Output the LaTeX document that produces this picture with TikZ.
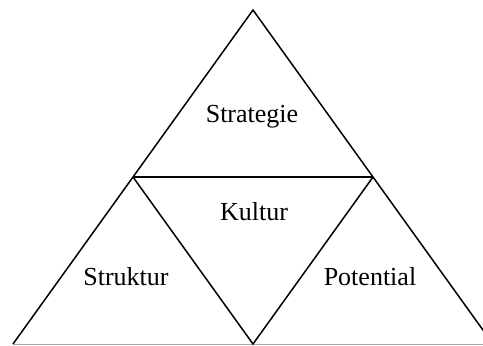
\documentclass[tikz,border=0pt]{standalone}
\usepackage{fontspec}
\setmainfont{Liberation Serif}
\tikzset{
  edge/.style={line width=1.5pt, black, line join=miter},
  baseline/.style={line width=1pt, gray!70},
  lbl/.style={font=\fontsize{26}{30}\selectfont, inner sep=0pt, anchor=base}
}
\begin{document}
\begin{tikzpicture}[x=1pt,y=-1pt]
\useasboundingbox (0,0) rectangle (483,346);
\clip (0,0) rectangle (483,346);
\coordinate (A) at (253,10);
\coordinate (L) at (13,344);
\coordinate (R) at (493,344);
\coordinate (ML) at (133,177);
\coordinate (MR) at (373,177);
\coordinate (MB) at (253,344);
\draw[baseline] (L) -- (R);
\draw[edge] (L) -- (A) -- (R);
\draw[edge] (ML) -- (MR);
\draw[edge] (ML) -- (MB) -- (MR);
\node[lbl] (strategie) at (252,122) {Strategie};
\node[lbl] (kultur) at (254,220) {Kultur};
\node[lbl] (struktur) at (126,285) {Struktur};
\node[lbl] (potential) at (370,285) {Potential};
\end{tikzpicture}
\end{document}
